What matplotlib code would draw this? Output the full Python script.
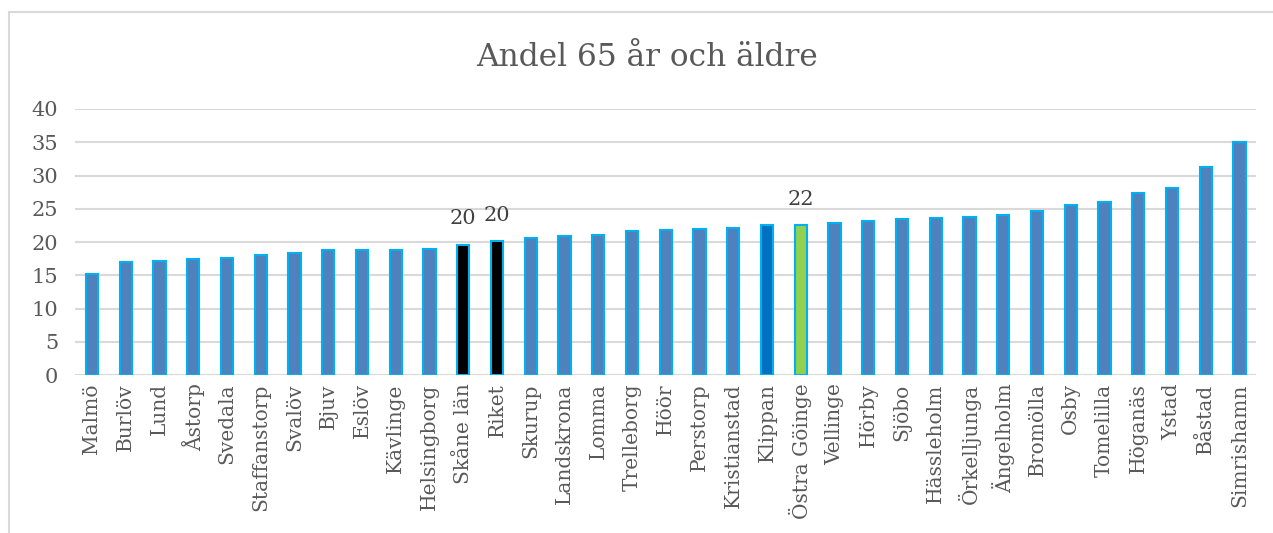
import matplotlib
matplotlib.use("Agg")
from matplotlib import pyplot as plt
from matplotlib.patches import Rectangle

# kommuner, sorterade efter andel 65 år och äldre
kommuner = ["Malmö", "Burlöv", "Lund", "Åstorp", "Svedala", "Staffanstorp", "Svalöv",
            "Bjuv", "Eslöv", "Kävlinge", "Helsingborg", "Skåne län", "Riket", "Skurup",
            "Landskrona", "Lomma", "Trelleborg", "Höör", "Perstorp", "Kristianstad",
            "Klippan", "Östra Göinge", "Vellinge", "Hörby", "Sjöbo", "Hässleholm",
            "Örkelljunga", "Ängelholm", "Bromölla", "Osby", "Tomelilla", "Höganäs",
            "Ystad", "Båstad", "Simrishamn"]
andel = [15.2, 17.0, 17.2, 17.5, 17.6, 18.1, 18.4, 18.8, 18.8, 18.8, 18.9, 19.6, 20.1,
         20.6, 20.9, 21.1, 21.6, 21.8, 21.9, 22.1, 22.5, 22.5, 22.9, 23.1, 23.5, 23.6,
         23.7, 24.1, 24.7, 25.6, 26.0, 27.3, 28.1, 31.3, 35.0]
etiketter = {"Skåne län": "20", "Riket": "20", "Östra Göinge": "22"}

# färger för utmärkta staplar
fill = {"Skåne län": "black", "Riket": "black", "Klippan": "#0070C0", "Östra Göinge": "#92D050"}
colors = [fill.get(k, "#4F81BD") for k in kommuner]

plt.rcParams['font.family'] = ['DejaVu Serif']

fig = plt.figure(figsize=(12.73, 5.33), dpi=100)
ax = fig.add_axes([0.059, 0.2964, 0.928, 0.4991])

x = range(len(kommuner))
bars = ax.bar(x, andel, width=0.36, color=colors, edgecolor="#00B0F0", linewidth=1.5, zorder=3)

for b, k in zip(bars, kommuner):
    if k in etiketter:
        ax.annotate(etiketter[k], (b.get_x() + b.get_width() / 2, b.get_height()),
                    xytext=(0, 12), textcoords="offset points",
                    ha="center", va="bottom", fontsize=15, color="#404040")

ax.set_xlim(-0.5, len(kommuner) - 0.5)
ax.set_ylim(0, 40)
ax.set_yticks(range(0, 41, 5))
ax.set_xticks(list(x))
ax.set_xticklabels(kommuner, rotation=90, fontsize=14.5, color="#595959")
ax.tick_params(axis="y", labelsize=15, labelcolor="#595959", length=0, pad=12)
ax.tick_params(axis="x", length=0, pad=6)
ax.grid(axis="y", color="#D9D9D9", linewidth=1.5, zorder=0)
for s in ax.spines.values():
    s.set_visible(False)

fig.text(0.508, 0.893, "Andel 65 år och äldre", ha="center", va="center", fontsize=22.5, color="#595959")

# ram runt diagrammet (vänster och överkant syns)
fig.add_artist(Rectangle((0.007, -0.1), 1.1, 1.077, transform=fig.transFigure, fill=False,
                         edgecolor="#D9D9D9", linewidth=1.5))

fig.savefig("out.png", dpi=100)
